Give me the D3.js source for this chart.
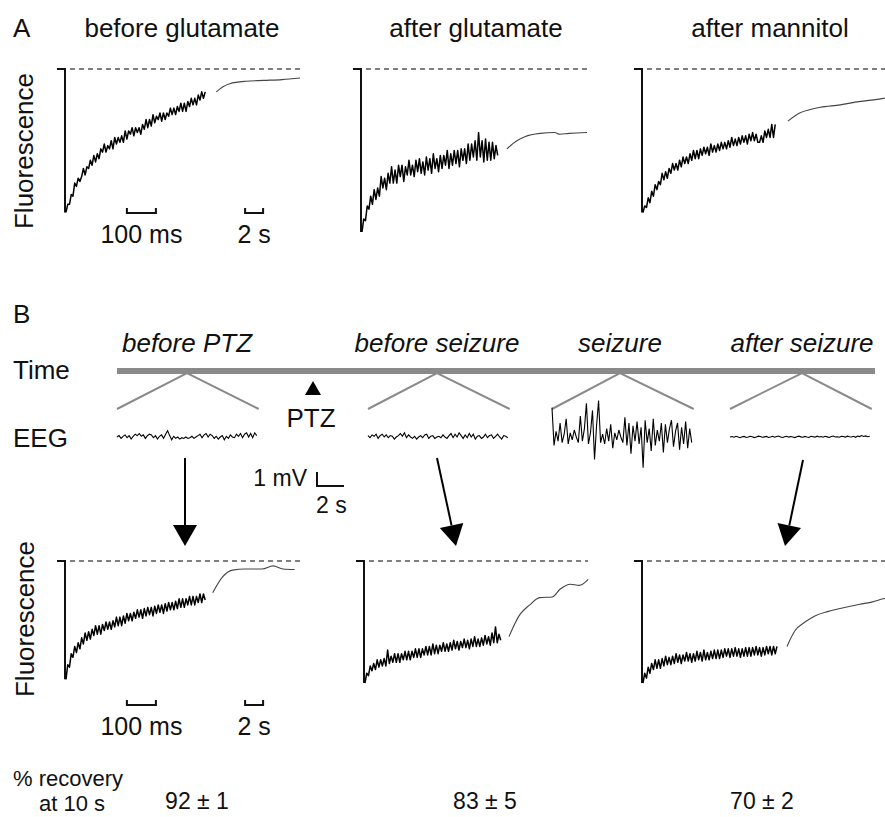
<!DOCTYPE html>
<html>
<head>
<meta charset="utf-8">
<script src="https://cdn.jsdelivr.net/npm/d3@7"></script>
<style>
  body { margin: 0; background: #fff; }
  svg { display: block; font-family: "Liberation Sans", Arial, sans-serif; }
</style>
</head>
<body>
<svg id="fig" width="885" height="817"></svg>
<script>
// ---- data ----
// fluorescence, normalised per row: 1 = resting baseline (dashed line)
var fastStep = 6;    // ms between samples of the fast traces
var eegStep = 0.15;  // s between EEG samples

var panelATitles = ['before glutamate', 'after glutamate', 'after mannitol'];
var periodLabels = ['before PTZ', 'before seizure', 'seizure', 'after seizure'];
var recoveryLabels = ['92 ± 1', '83 ± 5', '70 ± 2'];

var beforeGluFast = [.12, .17, .17, .23, .22, .30, .28, .33, .31, .34, .39, .35, .40, .39, .44, .41, .47, .43, .48, .45,
  .51, .49, .54, .49, .53, .51, .56, .51, .58, .54, .58, .55, .59, .55, .62, .57, .62, .60, .64, .59,
  .64, .61, .64, .60, .66, .63, .69, .64, .69, .65, .72, .67, .71, .69, .73, .68, .73, .69, .73, .71,
  .76, .72, .76, .72, .77, .74, .79, .74, .79, .74, .80, .77, .82, .78, .82, .78, .84, .81, .86, .82, .86];
var beforeGluSlow = [[0.7, .86], [1.4, .89], [2.2, .91], [4, .925], [6, .93], [8, .935], [10, .945]];

var afterGluFast = [.00, .08, .07, .16, .14, .22, .17, .26, .20, .27, .22, .34, .27, .33, .26, .36, .30, .40, .30, .38,
  .30, .41, .34, .41, .31, .40, .35, .44, .35, .41, .34, .44, .37, .45, .36, .43, .35, .46, .38, .45,
  .36, .48, .39, .45, .37, .47, .39, .47, .41, .50, .39, .48, .41, .50, .42, .50, .40, .51, .44, .51,
  .42, .54, .44, .54, .46, .56, .44, .61, .46, .56, .43, .57, .44, .55, .44, .55, .45, .53, .47];
var afterGluSlow = [[0.1, .51], [1.2, .56], [2.1, .585], [3.8, .605], [5.4, .61], [6, .60], [7, .605], [9, .61]];

var afterManFast = [.12, .16, .15, .21, .18, .25, .22, .29, .26, .31, .29, .36, .32, .37, .33, .39, .36, .42, .38, .42,
  .38, .44, .40, .46, .42, .46, .42, .48, .44, .50, .45, .50, .45, .51, .47, .52, .48, .52, .47, .54,
  .49, .53, .49, .54, .50, .55, .51, .55, .51, .56, .52, .58, .53, .57, .53, .58, .54, .59, .55, .59,
  .54, .60, .56, .61, .56, .60, .55, .55, .59, .55, .62, .58, .63, .58, .66, .58, .66];
var afterManSlow = [[0.1, .68], [1.4, .73], [2.5, .75], [3.7, .765], [5.9, .78], [8, .80], [10.7, .82], [11.5, .83]];

var beforePtzFast = [.03, .15, .13, .24, .21, .30, .25, .33, .28, .37, .32, .41, .35, .42, .36, .44, .39, .47, .40, .47,
  .40, .48, .43, .50, .44, .50, .44, .51, .46, .54, .47, .54, .47, .55, .49, .57, .51, .57, .51, .58,
  .53, .60, .54, .60, .53, .61, .55, .62, .56, .62, .55, .63, .57, .64, .58, .64, .57, .65, .59, .66,
  .60, .66, .60, .67, .61, .69, .62, .69, .62, .69, .64, .71, .64, .71, .64, .71, .66, .73, .66, .73, .68];
var beforePtzSlow = [[0.3, .74], [1.4, .87], [2.5, .925], [3.9, .935], [5.8, .935], [7, .96], [8.1, .935], [9.4, .93]];

var beforeSzFast = [.00, .08, .06, .14, .10, .16, .11, .19, .13, .19, .14, .20, .14, .27, .16, .22, .17, .24, .17, .24,
  .17, .24, .19, .26, .19, .26, .19, .26, .21, .28, .21, .28, .21, .28, .23, .30, .23, .30, .23, .32,
  .24, .31, .24, .31, .26, .33, .26, .32, .26, .33, .27, .35, .28, .34, .27, .34, .29, .36, .29, .35,
  .28, .36, .30, .38, .30, .36, .30, .37, .31, .39, .32, .38, .31, .41, .33, .46, .33, .40, .35];
var beforeSzSlow = [[0, .38], [1.2, .56], [2.3, .64], [3.4, .70], [4.8, .705], [5.7, .77], [6.8, .81], [7.8, .80], [8.8, .85]];

var afterSzFast = [.00, .08, .04, .13, .08, .16, .11, .19, .12, .19, .12, .20, .14, .22, .15, .21, .15, .22, .16, .24,
  .17, .23, .16, .23, .18, .25, .18, .24, .17, .24, .18, .26, .19, .25, .18, .27, .19, .25, .19, .26,
  .20, .27, .20, .27, .20, .27, .21, .28, .22, .28, .21, .28, .22, .29, .22, .28, .21, .28, .22, .29,
  .22, .29, .22, .29, .23, .30, .23, .29, .22, .29, .23, .30, .24, .30, .23, .30, .24, .30];
var afterSzSlow = [[0, .30], [0.9, .43], [2, .50], [3.1, .55], [4.5, .585], [5.9, .61], [8.1, .645], [9.5, .665], [10.7, .69], [11.5, .70]];

// EEG in mV
var eegBeforePtz = [0, .1, -.1, .05, .15, -.05, .1, -.15, .05, .2, .1, .25, .05, .15, -.1, .1, .2, .15, -.05, .1,
  -.15, .05, .15, -.1, .2, .45, .1, -.2, .05, -.1, .0, -.15, -.05, -.1, .0, -.1, -.05, .05, -.1, .0,
  .1, .2, -.05, .15, .25, .0, .2, .1, -.1, .05, -.15, .0, .1, -.2, .05, -.1, .15, .0, -.05, .2,
  .05, .25, -.05, .2, .3, .0, .25, -.05, .3, .1];
var eegBeforeSz = [.1, -.05, .15, .05, .2, -.1, .1, .2, .0, .15, -.05, .1, .05, -.15, .0, .1, .25, .05, .3, -.05,
  .15, .0, -.1, .05, -.15, .0, .1, -.05, .15, .2, -.1, .05, .1, -.1, .0, .05, -.05, .15, .0, -.1,
  .1, .25, -.05, .2, .0, .3, .1, -.1, .15, -.05, .25, .0, .2, -.15, .05, .1, -.1, .0, .2, -.05,
  .1, .15, -.1, .05, .2, .0, -.15, .1, .05, -.05];
var eegSeizure = [2.1, -.6, .4, -.3, 1.0, -.4, .2, 1.3, -.5, .3, -.2, .5, .0, -.4, 1.5, -.3, .6, 2.4, -.5, .3,
  1.9, -1.6, .8, 2.6, -.4, .2, -.5, .6, -.3, .9, -.8, .3, -.2, .5, .0, -.4, 1.4, -.6, 1.0, -1.2,
  .8, -.3, 1.1, -.5, .7, -2.2, 1.2, -.4, .6, -1.0, 1.3, -.6, .5, -.3, 1.0, -1.1, .9, -.4, .6, 1.2,
  -.7, .4, 1.0, -.9, .7, -.5, 1.1, -.8, .6, -.4];
var eegAfterSz = [.0, .03, -.02, .05, .0, -.05, .02, .04, -.03, .0, .05, .02, -.04, .0, .06, .03, -.02, .01, .04, -.03,
  .0, .05, -.02, .03, .07, .0, -.03, .02, .05, -.01, .03, .0, -.04, .02, .06, .01, -.02, .04, .0, -.03,
  .05, .02, -.01, .06, .0, .03, -.02, .05, .01, -.03, .04, .07, .0, .02, -.02, .05, .03, -.01, .06, .02,
  .0, .05, -.02, .07, .03, .1, .04, .08, .02, .05];

// ---- drawing ----
var svg = d3.select('#fig');
var ink = '#111';

function label(x, y, text, size, anchor, italic) {
  return svg.append('text')
    .attr('x', x).attr('y', y)
    .attr('font-size', size)
    .attr('text-anchor', anchor || 'start')
    .attr('font-style', italic ? 'italic' : 'normal')
    .attr('fill', ink)
    .text(text);
}

function bracket(xa, xb, y) {
  svg.append('path')
    .attr('d', 'M' + xa + ',' + (y - 5) + 'V' + y + 'H' + xb + 'V' + (y - 5))
    .attr('fill', 'none').attr('stroke', ink).attr('stroke-width', 2);
}

// one fluorescence panel: vertical bar, dashed baseline, fast trace, slow recovery
function drawPanel(x0, dashEnd, yScale, fast, slow, withBars, barY) {
  var xFast = d3.scaleLinear().domain([0, 500]).range([x0 + 1, x0 + 146]);
  var xSlow = d3.scaleLinear().domain([0, 10]).range([x0 + 145, x0 + 235]);
  var top = yScale(1);
  var bottom = yScale(d3.min(fast));

  svg.append('line')
    .attr('x1', x0 + 5).attr('x2', dashEnd).attr('y1', top).attr('y2', top)
    .attr('stroke', '#555').attr('stroke-width', 1.5).attr('stroke-dasharray', '5,4');
  svg.append('path')
    .attr('d', 'M' + (x0 - 8) + ',' + top + 'H' + x0 + 'V' + bottom)
    .attr('fill', 'none').attr('stroke', ink).attr('stroke-width', 2);

  var fastLine = d3.line().x((d, i) => xFast(i * fastStep)).y(d => yScale(d));
  svg.append('path').datum(fast)
    .attr('d', fastLine)
    .attr('fill', 'none').attr('stroke', '#000').attr('stroke-width', 1.5)
    .attr('stroke-linejoin', 'round');

  var slowLine = d3.line().x(d => xSlow(d[0])).y(d => yScale(d[1])).curve(d3.curveMonotoneX);
  svg.append('path').datum(slow)
    .attr('d', slowLine)
    .attr('fill', 'none').attr('stroke', '#444').attr('stroke-width', 1.1);

  if (withBars) {
    bracket(xFast(210), xFast(310), barY);
    bracket(xSlow(3.9), xSlow(5.9), barY);
    label((xFast(210) + xFast(310)) / 2, barY + 30, '100 ms', 25, 'middle');
    label((xSlow(3.9) + xSlow(5.9)) / 2, barY + 30, '2 s', 25, 'middle');
  }
}

function arrow(x1, y1, x2, y2) {
  var a = Math.atan2(y2 - y1, x2 - x1), len = 21, hw = 12;
  var bx = x2 - len * Math.cos(a), by = y2 - len * Math.sin(a);
  svg.append('line').attr('x1', x1).attr('y1', y1).attr('x2', bx).attr('y2', by)
    .attr('stroke', '#000').attr('stroke-width', 2);
  svg.append('path')
    .attr('d', 'M' + x2 + ',' + y2 +
      'L' + (bx + hw * Math.sin(a)) + ',' + (by - hw * Math.cos(a)) +
      'L' + (bx - hw * Math.sin(a)) + ',' + (by + hw * Math.cos(a)) + 'Z')
    .attr('fill', '#000');
}

// ---- panel A ----
var yA = d3.scaleLinear().domain([0, 1]).range([232, 69]);
label(13, 37, 'A', 26);
[182, 476, 770].forEach((cx, i) => label(cx, 37, panelATitles[i], 26, 'middle'));
svg.append('text').attr('transform', 'translate(33,151) rotate(-90)')
  .attr('text-anchor', 'middle').attr('font-size', 26).attr('fill', ink).text('Fluorescence');

drawPanel(65, 300, yA, beforeGluFast, beforeGluSlow, true, 213);
drawPanel(361, 587, yA, afterGluFast, afterGluSlow, false);
drawPanel(642, 885, yA, afterManFast, afterManSlow, false);

// ---- panel B: time line and EEG ----
label(13, 323, 'B', 26);
label(13, 379, 'Time', 26);
label(13, 447, 'EEG', 26);

var eegStarts = [117, 368, 552, 730];
var eegData = [eegBeforePtz, eegBeforeSz, eegSeizure, eegAfterSz];
var eegY = d3.scaleLinear().domain([-1, 1]).range([451, 423]);
var pxPerSec = 13.5;

svg.append('line').attr('x1', 117).attr('x2', 875).attr('y1', 371).attr('y2', 371)
  .attr('stroke', '#8a8a8a').attr('stroke-width', 6);

var apexX = [187, 437, 620, 802];
eegStarts.forEach((x0, i) => {
  var xE = d3.scaleLinear().domain([0, 1]).range([x0, x0 + pxPerSec]);
  var x1 = xE((eegData[i].length - 1) * eegStep);
  label(apexX[i], 352, periodLabels[i], 26, 'middle', true);
  svg.append('path')
    .attr('d', 'M' + x0 + ',409L' + apexX[i] + ',373L' + (x1 + 2) + ',409')
    .attr('fill', 'none').attr('stroke', '#8a8a8a').attr('stroke-width', 2);
  var eegLine = d3.line().x((d, j) => xE(j * eegStep)).y(d => eegY(d));
  svg.append('path').datum(eegData[i])
    .attr('d', eegLine)
    .attr('fill', 'none').attr('stroke', '#000').attr('stroke-width', 1.1);
});

// PTZ marker
svg.append('path').attr('d', 'M313,381L321,395L305,395Z').attr('fill', '#000');
label(311, 427, 'PTZ', 26, 'middle');

// EEG scale bar: 1 mV, 2 s
var mv = Math.abs(eegY(1) - eegY(0));
svg.append('path')
  .attr('d', 'M317,' + (486 - mv) + 'V486H' + (317 + 2 * pxPerSec))
  .attr('fill', 'none').attr('stroke', ink).attr('stroke-width', 2);
label(307, 486, '1 mV', 23, 'end');
label(316, 513, '2 s', 23);

// arrows to the fluorescence traces
arrow(185, 458, 185, 546);
arrow(437, 458, 456, 546);
arrow(803, 460, 785, 546);

// ---- panel B: fluorescence ----
var yB = d3.scaleLinear().domain([0, 1]).range([683, 561]);
svg.append('text').attr('transform', 'translate(34,619) rotate(-90)')
  .attr('text-anchor', 'middle').attr('font-size', 26).attr('fill', ink).text('Fluorescence');

drawPanel(65, 300, yB, beforePtzFast, beforePtzSlow, true, 705);
drawPanel(364, 588, yB, beforeSzFast, beforeSzSlow, false);
drawPanel(642, 885, yB, afterSzFast, afterSzSlow, false);

// recovery numbers
label(13, 786, '% recovery', 22);
label(72, 811, 'at 10 s', 22, 'middle');
[197, 485, 762].forEach((cx, i) => label(cx, 809, recoveryLabels[i], 23, 'middle'));
</script>
</body>
</html>
